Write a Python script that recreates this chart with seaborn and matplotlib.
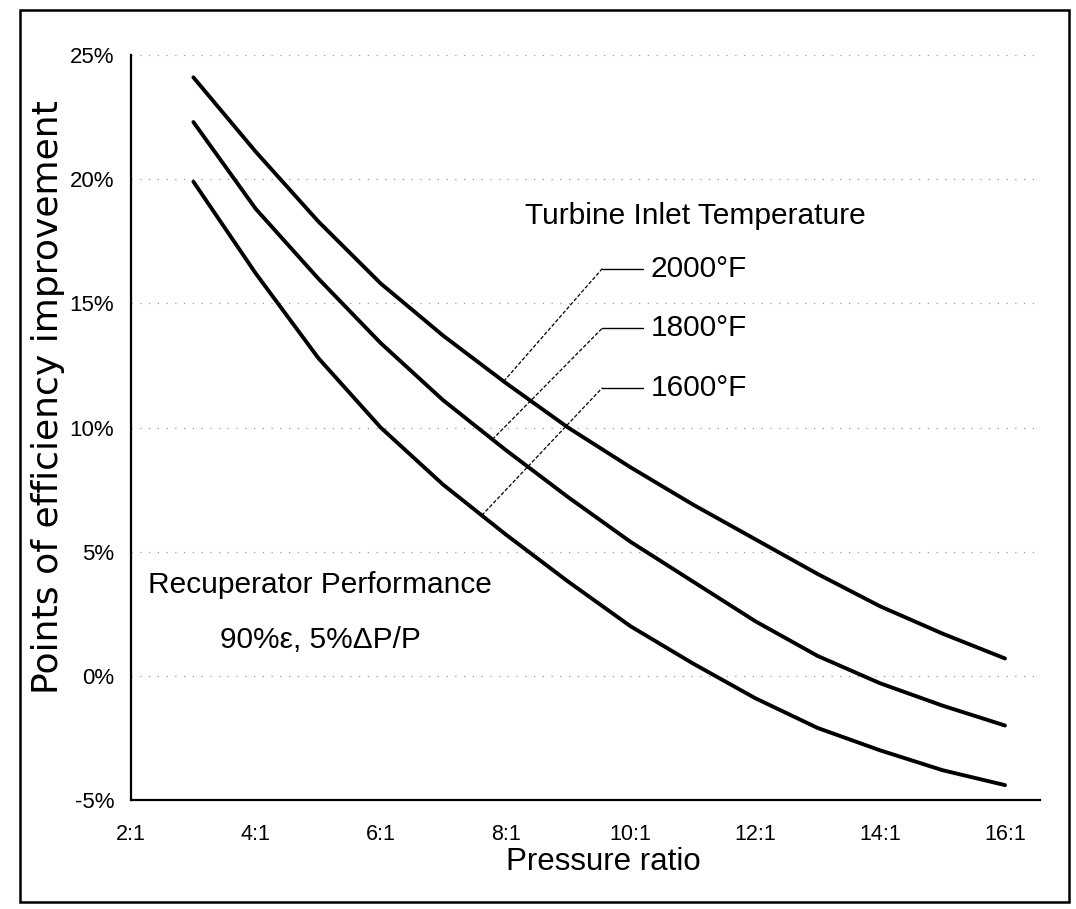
import numpy as np
import pandas as pd
import seaborn as sns
import matplotlib.pyplot as plt
from matplotlib.patches import Rectangle

# values (efficiency improvement, %)
pressure_ratio = [3, 4, 5, 6, 7, 8, 9, 10, 11, 12, 13, 14, 15, 16]
temp_2000 = [24.1, 21.1, 18.3, 15.8, 13.7, 11.8, 10.0, 8.4, 6.9, 5.5, 4.1, 2.8, 1.7, 0.7]
temp_1800 = [22.3, 18.8, 16.0, 13.4, 11.1, 9.1, 7.2, 5.4, 3.8, 2.2, 0.8, -0.3, -1.2, -2.0]
temp_1600 = [19.9, 16.2, 12.8, 10.0, 7.7, 5.7, 3.8, 2.0, 0.5, -0.9, -2.1, -3.0, -3.8, -4.4]
series_names = ["2000°F", "1800°F", "1600°F"]

x_ticks = [2, 4, 6, 8, 10, 12, 14, 16]
x_ticklabels = ["2:1", "4:1", "6:1", "8:1", "10:1", "12:1", "14:1", "16:1"]
y_ticks = [-5, 0, 5, 10, 15, 20, 25]
y_ticklabels = ["-5%", "0%", "5%", "10%", "15%", "20%", "25%"]

df = pd.DataFrame({
    "ratio": pressure_ratio * 3,
    "eff": temp_2000 + temp_1800 + temp_1600,
    "tit": np.repeat(series_names, len(pressure_ratio)),
})

sns.set_style("white")
plt.rcParams["font.family"] = ["Liberation Sans", "DejaVu Sans"]
plt.rcParams.update({"text.color": "black", "xtick.color": "black",
                     "ytick.color": "black", "axes.labelcolor": "black"})

fig = plt.figure(figsize=(10.76, 9.09), dpi=100)
ax = fig.add_axes([0.1217, 0.1199, 0.8448, 0.8196])

sns.lineplot(data=df, x="ratio", y="eff", hue="tit",
             palette=["black"] * 3, linewidth=2.8, legend=False, ax=ax)

ax.set_xlim(2, 16.56)
ax.set_ylim(-5, 25)
ax.set_xticks(x_ticks)
ax.set_xticklabels(x_ticklabels)
ax.set_yticks(y_ticks)
ax.set_yticklabels(y_ticklabels)
ax.tick_params(axis="x", direction="in", length=7, width=1, labelsize=15.5, pad=17)
ax.tick_params(axis="y", direction="in", length=7, width=1, labelsize=16, pad=12)
ax.set_xlabel("")
ax.set_ylabel("")

for s in ["top", "right"]:
    ax.spines[s].set_visible(False)
for s in ["left", "bottom"]:
    ax.spines[s].set_linewidth(1.6)
    ax.spines[s].set_color("black")

ax.yaxis.grid(True, linestyle=(0, (1, 6)), color="#999999", linewidth=0.9)

# leader lines from the curves to the temperature labels
leader_x = [7.97, 7.79, 7.62]
label_y = [16.4, 14.0, 11.6]
for name, ys, lx, ly in zip(series_names, [temp_2000, temp_1800, temp_1600], leader_x, label_y):
    y0 = np.interp(lx, pressure_ratio, ys)
    ax.plot([lx, 9.55], [y0, ly], color="black", lw=0.9, ls=(0, (3, 1.5)))
    ax.plot([9.55, 10.2], [ly, ly], color="black", lw=1.0)
    ax.text(10.32, ly, name, fontsize=21.5, va="center", ha="left")

ax.text(11.04, 18.5, "Turbine Inlet Temperature", fontsize=21.5, ha="center", va="center")
ax.text(5.03, 3.65, "Recuperator Performance", fontsize=21.5, ha="center", va="center")
ax.text(5.03, 1.44, "90%ε, 5%ΔP/P", fontsize=21.5, ha="center", va="center")

fig.text(603 / 1076, 1 - 862 / 909, "Pressure ratio", fontsize=22.5, ha="center", va="center")
fig.text(48 / 1076, 1 - 397 / 909, "Points of efficiency improvement", fontsize=26,
         rotation=90, ha="center", va="center", family="DejaVu Sans")

# outer border of the figure
fig.patches.append(Rectangle((0.0186, 0.0077), 0.975, 0.981, transform=fig.transFigure,
                             fill=False, lw=1.8, ec="black"))

fig.savefig("out.png", dpi=100)
